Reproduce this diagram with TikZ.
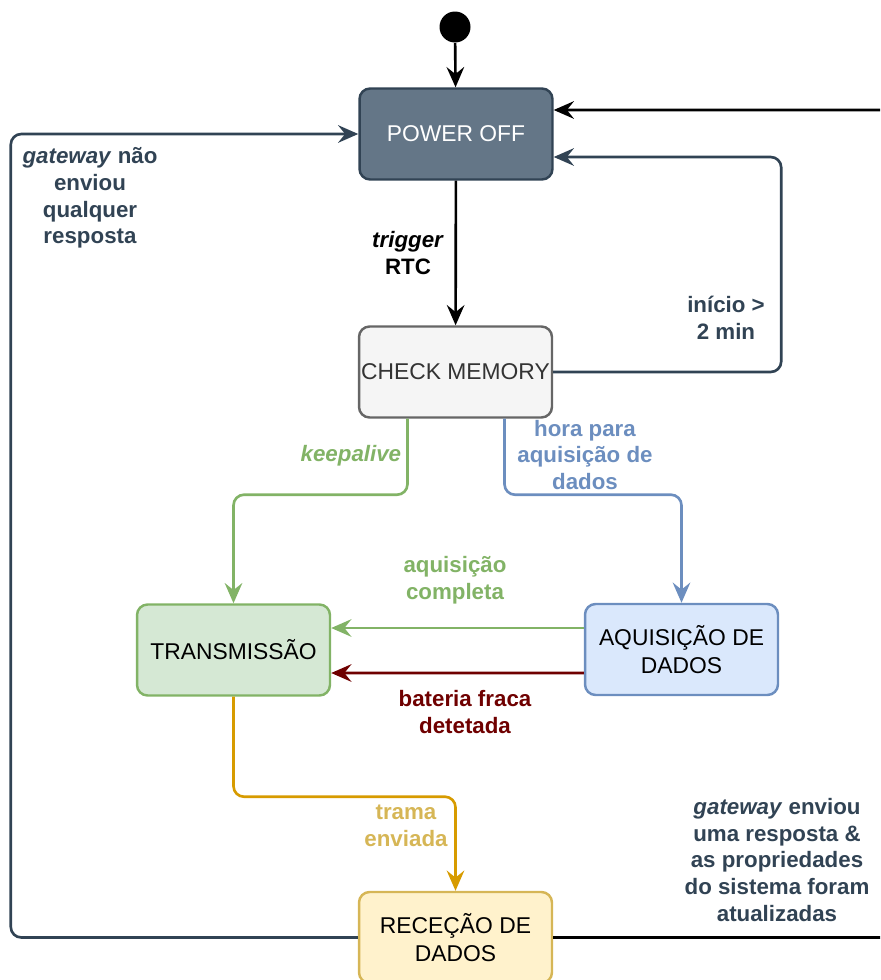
\documentclass[tikz,border=0pt]{standalone}
\usepackage{fontspec}
\setmainfont{Liberation Sans}
\usetikzlibrary{arrows.meta, calc}
\definecolor{slate}{HTML}{314354}
\definecolor{pofill}{HTML}{647687}
\definecolor{cmfill}{HTML}{F5F5F5}
\definecolor{cmline}{HTML}{666666}
\definecolor{cmtext}{HTML}{333333}
\definecolor{grline}{HTML}{82B366}
\definecolor{grfill}{HTML}{D5E8D4}
\definecolor{blline}{HTML}{6C8EBF}
\definecolor{blfill}{HTML}{DAE8FC}
\definecolor{redline}{HTML}{6F0000}
\definecolor{orline}{HTML}{D79B00}
\definecolor{yeline}{HTML}{D6B656}
\definecolor{yefill}{HTML}{FFF2CC}
\begin{document}
\begin{tikzpicture}[x=0.02cm, y=-0.02cm,
    font=\fontsize{13}{15.5}\selectfont,
    state/.style={draw, line width=1.4pt, rounded corners=6pt, inner sep=1pt, minimum width=3.86cm, minimum height=1.82cm, align=center},
    arr/.style={-{Stealth[length=11.5pt, width=10pt, inset=4pt]}, line width=1.5pt, rounded corners=6pt},
    lbl/.style={font=\fontsize{12.7}{15.2}\selectfont\bfseries, align=center, inner sep=2pt}]
    \useasboundingbox (0,0) rectangle (880,980);
    \clip (0,0) rectangle (880,980);
    % states
    \node (start) at (455,27) [circle, fill=black, minimum size=0.62cm, inner sep=0pt] {};
    \node (poweroff) at (456,134) [state, draw=slate, fill=pofill, text=white] {POWER OFF};
    \node (checkmem) at (455.5,372) [state, draw=cmline, fill=cmfill, text=cmtext] {CHECK MEMORY};
    \node (transm) at (233.5,650) [state, draw=grline, fill=grfill] {TRANSMISSÃO};
    \node (aquis) at (681.5,649.5) [state, draw=blline, fill=blfill] {AQUISIÇÃO DE\\DADOS};
    \node (rececao) at (455.5,937.5) [state, draw=yeline, fill=yefill] {RECEÇÃO DE\\DADOS};
    % transitions
    \draw [arr] (start) -- (poweroff);
    \draw [arr] (poweroff) -- (checkmem) node [midway, left, lbl, xshift=-4pt] {\textit{trigger}\\RTC};
    \draw [arr, slate] (checkmem.east) -- ++(228,0) |- ($(poweroff.east)+(0,23)$);
    \node [lbl, slate] at (726,318) {início >\\2 min};
    \draw [arr, grline] ($(checkmem.south)+(-48,0)$) -- ++(0,76) -| (transm.north);
    \node [lbl, grline, anchor=east] at (405,456) {\textit{keepalive}};
    \draw [arr, blline] ($(checkmem.south)+(49,0)$) -- ++(0,76) -| (aquis.north);
    \node [lbl, blline] at (585,455) {hora para\\aquisição de\\dados};
    \draw [arr, grline] ($(aquis.west)+(0,-21.5)$) -- ($(transm.east)+(0,-22)$);
    \node [lbl, grline] at (455,580) {aquisição\\completa};
    \draw [arr, redline] ($(aquis.west)+(0,23.5)$) -- ($(transm.east)+(0,23)$);
    \node [lbl, redline] at (465,712) {bateria fraca\\detetada};
    \draw [arr, orline] (transm.south) -- ++(0,100) -| (rececao.north);
    \node [lbl, yeline] at (406,826) {trama\\enviada};
    \draw [arr, slate] (rececao.west) -- ++(-347,0) |- (poweroff.west);
    \node [lbl, slate] at (90,198) {\textit{gateway} não\\enviou\\qualquer\\resposta};
    \draw [arr] (rececao.east) -- ++(360,0) |- ($(poweroff.east)+(0,-24)$);
    \node [lbl, slate] at (777,860) {\textit{gateway} enviou\\uma resposta \&\\as propriedades\\do sistema foram\\atualizadas};
\end{tikzpicture}
\end{document}
